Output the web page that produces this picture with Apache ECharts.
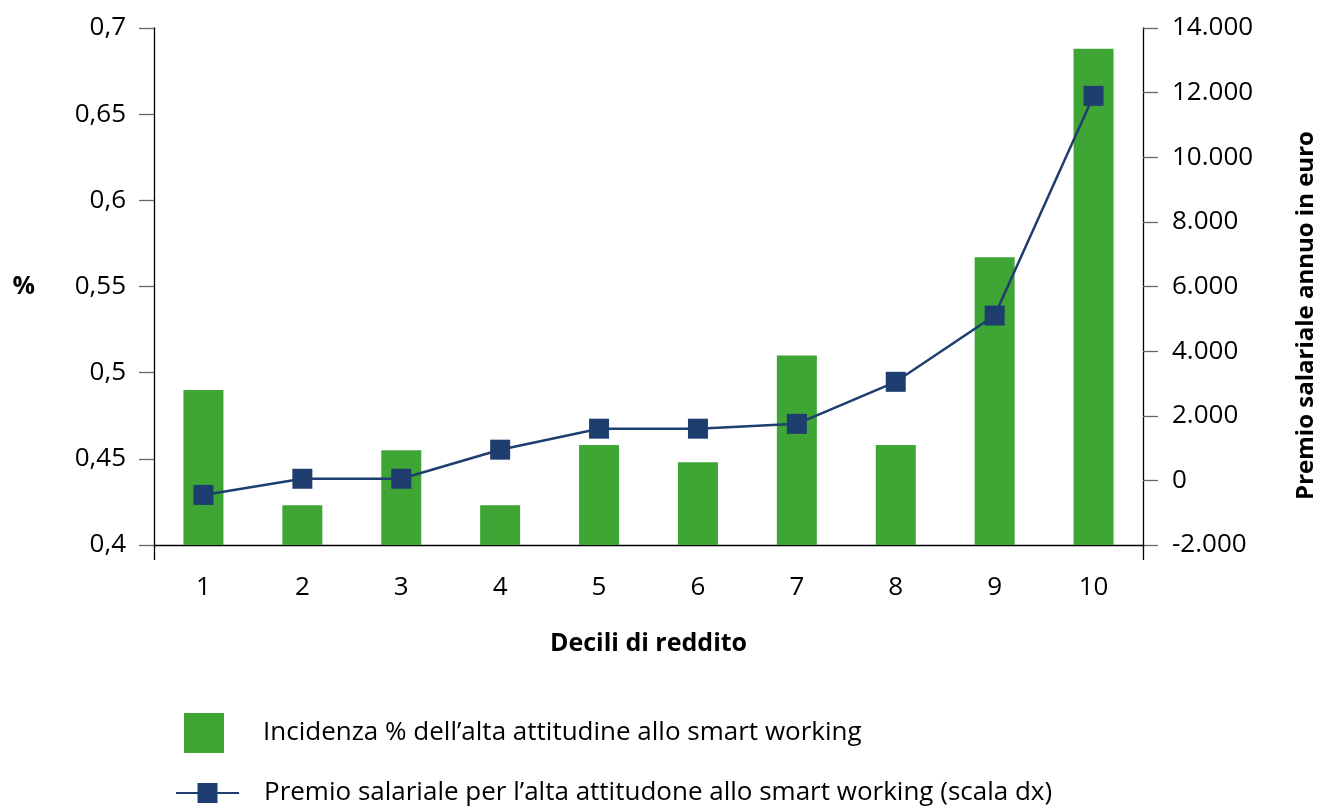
<!DOCTYPE html>
<html>
<head>
<meta charset="utf-8">
<script src="https://cdn.jsdelivr.net/npm/echarts@6/dist/echarts.min.js"></script>
<style>
html,body{margin:0;padding:0;background:#fff;}
#chart{width:1326px;height:807px;}
</style>
</head>
<body>
<div id="chart"></div>
<script>
const categories = ['1','2','3','4','5','6','7','8','9','10'];
const incidenza = [0.490, 0.423, 0.455, 0.423, 0.458, 0.448, 0.510, 0.458, 0.567, 0.688];
const premio = [-450, 50, 50, 950, 1600, 1600, 1750, 3050, 5100, 11900];
const barName = 'Incidenza % dell\u2019alta attitudine allo smart working';
const lineName = 'Premio salariale per l\u2019alta attitudone allo smart working (scala dx)';
const xTitle = 'Decili di reddito';
const leftTitle = '%';
const rightTitle = 'Premio salariale annuo in euro';

const FONT = 'Open Sans';
const FS = 26;
const NFS = 25;
const GREEN = '#3fa535';
const NAVY = '#1f3e70';

function fmtLeft(v){ return String(+v.toFixed(2)).replace('.', ','); }
function fmtRight(v){
  const neg = v < 0; let s = String(Math.abs(Math.round(v)));
  s = s.replace(/\B(?=(\d{3})+(?!\d))/g, '.');
  return (neg ? '-' : '') + s;
}

const chart = echarts.init(document.getElementById('chart'));
chart.setOption({
  backgroundColor: '#fff',
  animation: false,
  textStyle: { fontFamily: FONT, color: '#000' },
  grid: { left: 154, right: 174, top: 28, bottom: 262, containLabel: false },
  xAxis: [{
    type: 'category',
    data: categories,
    boundaryGap: true,
    name: xTitle,
    nameLocation: 'middle',
    nameGap: 86,
    nameTextStyle: { fontFamily: FONT, fontSize: NFS, fontWeight: 'bold', color: '#000' },
    axisLine: { show: true, onZero: false, lineStyle: { color: '#000', width: 1.3 } },
    axisTick: { show: false },
    axisLabel: { margin: 30, fontFamily: FONT, fontSize: FS, color: '#000' },
    splitLine: { show: false }
  }, {
    type: 'value',
    min: 0, max: 1, interval: 1,
    position: 'bottom',
    axisLine: { show: false, onZero: false },
    axisTick: { show: true, length: 15, lineStyle: { color: '#000', width: 1.3 } },
    axisLabel: { show: false },
    splitLine: { show: false }
  }],
  yAxis: [{
    type: 'value',
    min: 0.4, max: 0.7, interval: 0.05,
    position: 'left',
    name: leftTitle,
    nameLocation: 'middle',
    nameRotate: 0,
    nameGap: 119,
    nameTextStyle: { fontFamily: FONT, fontSize: NFS, fontWeight: 'bold', color: '#000' },
    axisLine: { show: true, onZero: false, lineStyle: { color: '#000', width: 1.3 } },
    axisTick: { show: true, length: 15, lineStyle: { color: '#666', width: 1.3 } },
    axisLabel: { margin: 28, fontFamily: FONT, fontSize: FS, color: '#000', formatter: fmtLeft },
    splitLine: { show: false }
  }, {
    type: 'value',
    min: -2000, max: 14000, interval: 2000,
    position: 'right',
    name: rightTitle,
    nameLocation: 'middle',
    nameRotate: 90,
    nameGap: 151,
    nameTextStyle: { fontFamily: FONT, fontSize: 24, fontWeight: 'bold', color: '#000', padding: [0, 58, 0, 0] },
    axisLine: { show: true, onZero: false, lineStyle: { color: '#000', width: 1.3 } },
    axisTick: { show: true, length: 15, lineStyle: { color: '#666', width: 1.3 } },
    axisLabel: { margin: 29, fontFamily: FONT, fontSize: FS, color: '#000', formatter: fmtRight },
    splitLine: { show: false }
  }],
  legend: [{
    data: [{ name: barName, icon: 'rect' }],
    orient: 'vertical',
    left: 184, top: 713,
    padding: 0,
    itemWidth: 40, itemHeight: 40,
    textStyle: { fontFamily: FONT, fontSize: FS, color: '#000', padding: [0, 0, 0, 34] },
    selectedMode: false
  }, {
    data: [lineName],
    orient: 'vertical',
    left: 175, top: 780,
    padding: 0,
    itemWidth: 63, itemHeight: 25,
    textStyle: { fontFamily: FONT, fontSize: FS, color: '#000', padding: [0, 0, 0, 20] },
    selectedMode: false
  }],
  series: [{
    name: barName,
    type: 'bar',
    xAxisIndex: 0,
    yAxisIndex: 0,
    data: incidenza,
    barWidth: 40,
    itemStyle: { color: GREEN }
  }, {
    name: lineName,
    type: 'line',
    xAxisIndex: 0,
    yAxisIndex: 1,
    data: premio,
    symbol: 'rect',
    symbolSize: 20,
    itemStyle: { color: NAVY },
    lineStyle: { color: NAVY, width: 2.5 },
    z: 5
  }]
});
</script>
</body>
</html>
